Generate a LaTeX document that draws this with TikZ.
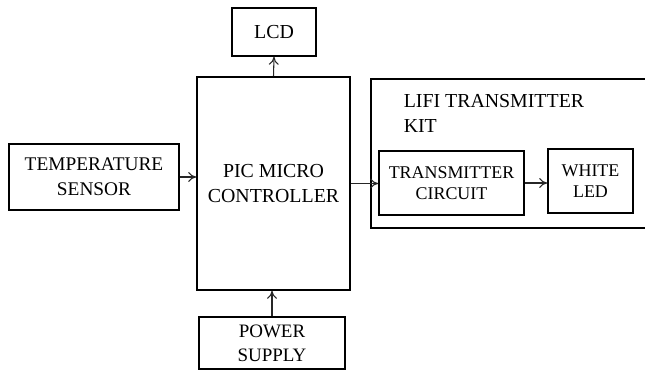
\documentclass[tikz,border=0pt]{standalone}
\usepackage{fontspec}
\setmainfont{Liberation Serif}
\usepackage{tikz}
\usetikzlibrary{positioning, arrows.meta}
\tikzset{
  blk/.style  = {rectangle, draw=black, line width=0.9pt, align=center,
                 font=\fontsize{11.3}{14.2}\selectfont, inner sep=2pt},
  blksm/.style = {blk, font=\fontsize{10.2}{12}\selectfont},
  kit/.style  = {rectangle, draw=black, line width=0.9pt},
  arr/.style  = {-{To[length=1.6mm,width=2mm]}, line width=0.6pt, draw=black!85},
}

\begin{document}
\begin{tikzpicture}[x=0.02cm, y=-0.02cm]
  \useasboundingbox (0,0) rectangle (645,371);

  \node[blk, minimum width=3.4cm,  minimum height=1.32cm, font=\fontsize{11}{14.2}\selectfont] (temp)  at (94,177) {TEMPERATURE\\SENSOR};
  \node[blk, minimum width=3.06cm, minimum height=4.26cm] (pic)   at (273.5,183.5) {PIC MICRO\\CONTROLLER};
  \node[blk, minimum width=1.68cm, minimum height=0.96cm] (lcd)   at (274,32)    {LCD};
  \node[blk, minimum width=2.92cm, minimum height=1.04cm, font=\fontsize{10.8}{13.6}\selectfont] (power) at (272,343) {POWER\\SUPPLY};

  \node[kit, minimum width=5.8cm, minimum height=2.98cm, anchor=north west] (lifi) at (370,78) {};
  \node[blk, draw=none, align=left, anchor=north west, inner sep=0pt] (lifilbl) at (403,94) {LIFI TRANSMITTER\\KIT};

  \node[blksm, minimum width=2.9cm,  minimum height=1.28cm] (tc)    at (451.5,183) {TRANSMITTER\\CIRCUIT};
  \node[blksm, minimum width=1.7cm,  minimum height=1.28cm] (wled)  at (590.5,181) {WHITE\\LED};

  \draw[arr] (temp.east) -- (temp.east -| pic.west);
  \draw[arr] (pic.north) -- (lcd.south);
  \draw[arr] (power.north) -- (power.north |- pic.south);
  \draw[arr] (pic.east) -- (pic.east -| tc.west);
  \draw[arr] (tc.east) -- (tc.east -| wled.west);

\end{tikzpicture}
\end{document}
